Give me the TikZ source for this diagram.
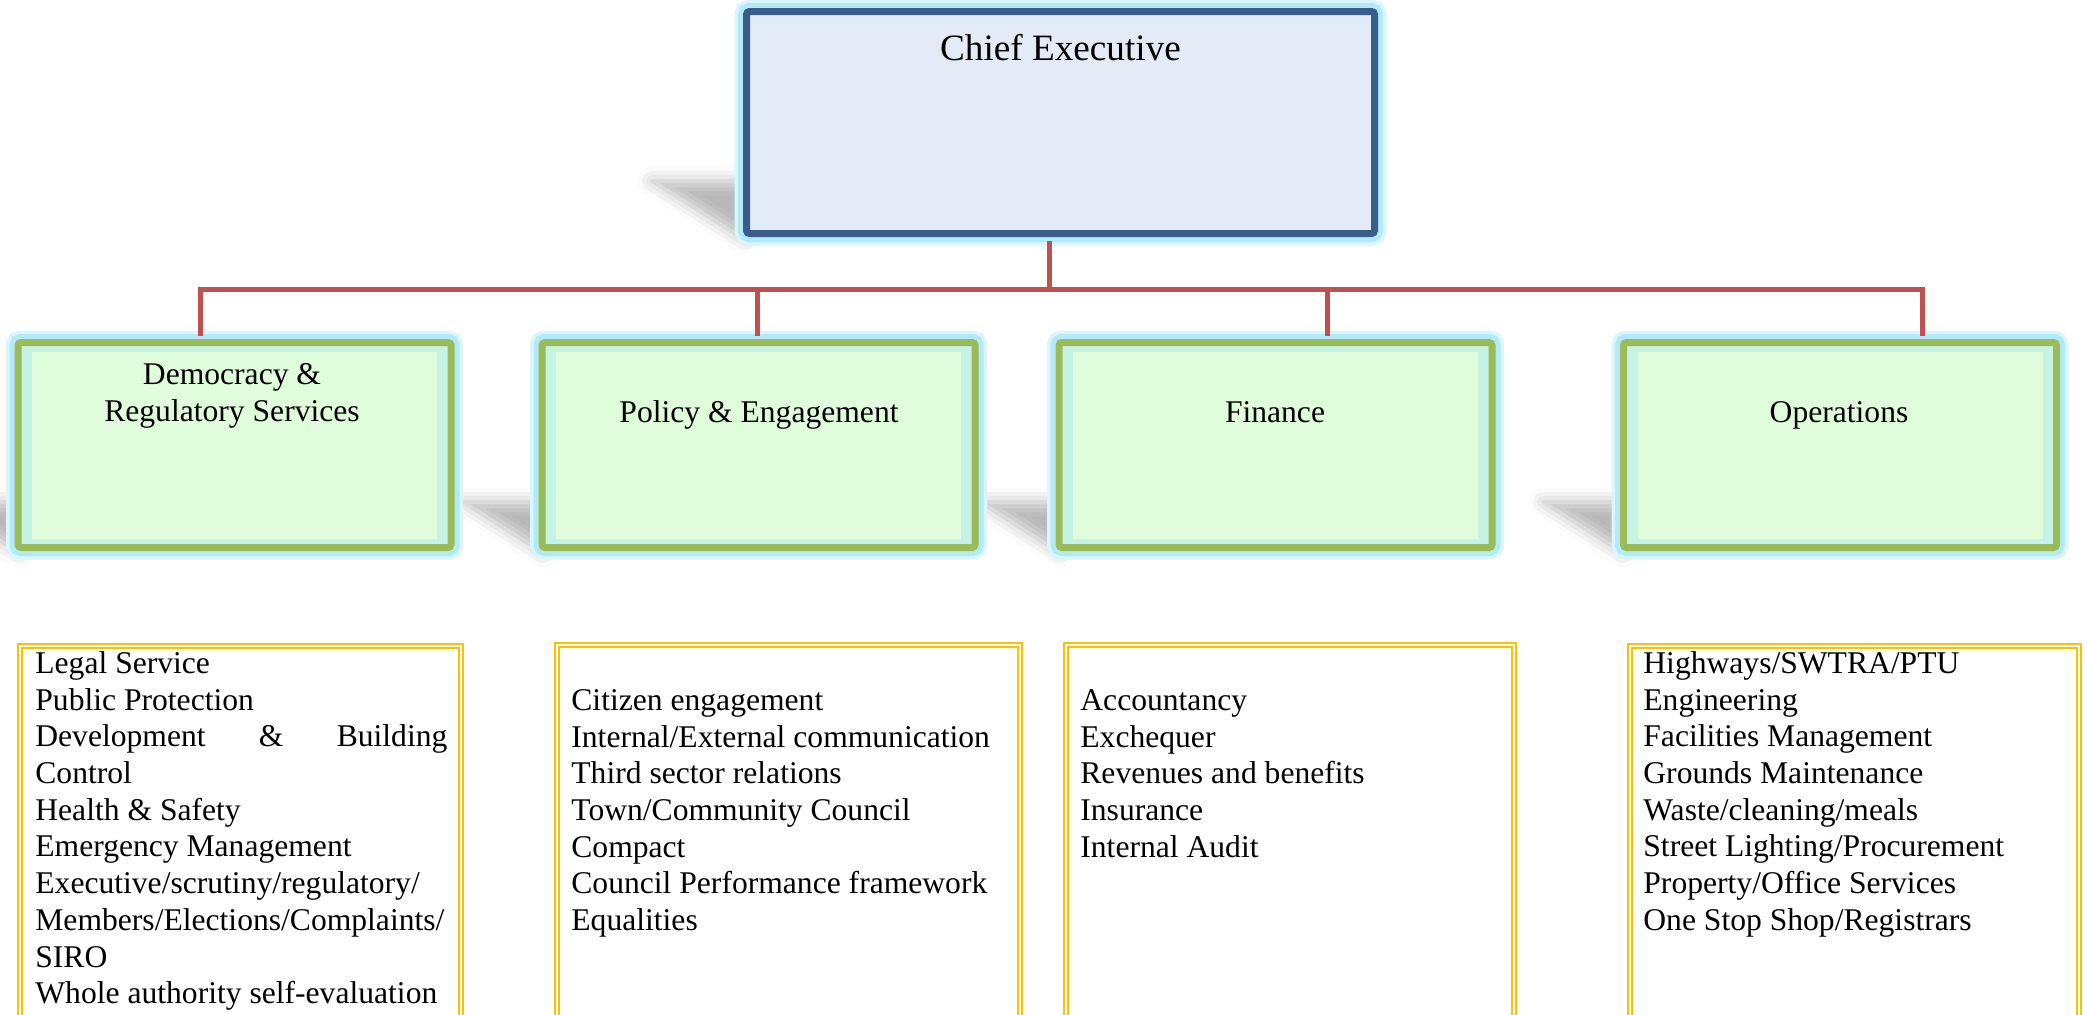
\documentclass[tikz,border=0pt]{standalone}
\usepackage{fontspec}
\setmainfont{Liberation Serif}
\usetikzlibrary{shadows.blur}
\definecolor{ceblue}{HTML}{385D8A}
\definecolor{cefill}{HTML}{E3EBF7}
\definecolor{glowcyan}{HTML}{A5E6F7}
\definecolor{unitgreen}{HTML}{9BBB59}
\definecolor{unitband}{HTML}{C5F3E6}
\definecolor{unitfill}{HTML}{E0FDDB}
\definecolor{linkred}{HTML}{C0504D}
\definecolor{listgold}{HTML}{FFC000}

\begin{document}
\begin{tikzpicture}[x=0.5pt,y=-0.5pt,
	glowbox/.style={preaction={draw=glowcyan!40,line width=12pt},preaction={draw=glowcyan!85,line width=8.5pt}},
	headbox/.style={glowbox,draw=ceblue,fill=cefill,line width=3.5pt,rounded corners=1.5pt,inner sep=0pt,minimum width=314pt,minimum height=111pt},
	unitbox/.style={glowbox,draw=unitgreen,fill=unitband,line width=3.5pt,rounded corners=1.5pt,inner sep=0pt,minimum width=216.5pt,minimum height=102.5pt},
	boxshade/.style={blur shadow={shadow xshift=0pt,shadow yshift=0pt,shadow blur radius=7pt,shadow opacity=28}},
	linkline/.style={draw=linkred,line width=2.5pt},
	listline/.style={draw=listgold,line width=1pt,double=white,double distance=1pt},
	titletext/.style={inner sep=0pt,font=\fontsize{18.6}{22}\selectfont},
	unittext/.style={inner sep=0pt,align=center,font=\fontsize{15.8}{18.35}\selectfont},
	listtext/.style={inner sep=0pt,anchor=north west,align=left,font=\fontsize{15.8}{18.35}\selectfont}]
	\useasboundingbox (0,0) rectangle (2087,1014);
	
	%shadows
	\path[boxshade] (652,181) -- (745,181) -- (745,240) -- cycle;
	\foreach \l in {15,539,1056,1619}
		\path[boxshade] (\l-76,502) -- (\l+4,502) -- (\l+4,553) -- cycle;
	
	%list frames
	\draw[listline] (20,1030) -- (20,646) -- (461,646) -- (461,1030);
	\draw[listline] (557,1030) -- (557,645) -- (1020,645) -- (1020,1030);
	\draw[listline] (1066,1030) -- (1066,645) -- (1514,645) -- (1514,1030);
	\draw[listline] (1630,1030) -- (1630,646) -- (2079,646) -- (2079,1030);
	
	%boxes
	\node[headbox] (ceo) at (1060.5,122.5) {};
	\node[unitbox] (dem) at (234.5,445) {};
	\node[unitbox] (pol) at (758.5,445) {};
	\node[unitbox] (fin) at (1275.5,445) {};
	\node[unitbox] (ops) at (1840,445) {};
	\foreach \u in {dem,pol,fin,ops}
		\fill[unitfill] ([shift={(8.75pt,6.25pt)}]\u.south west) rectangle ([shift={(-8.75pt,-6.25pt)}]\u.north east);
	
	%labels
	\node[titletext,anchor=base] (ceoname) at (1060.5,60) {Chief Executive};
	\node[unittext,anchor=north] (demname) at (232,363) {Democracy \&\\Regulatory Services};
	\node[unittext,anchor=base] (polname) at (759,422) {Policy \& Engagement};
	\node[unittext,anchor=base] (finname) at (1275,422) {Finance};
	\node[unittext,anchor=base] (opsname) at (1839,422) {Operations};
	
	%lists
	\node[listtext] (demlist) at (35,647.3) {\strut Legal Service\\Public Protection\\\makebox[206pt][s]{Development \& Building}\\Control\\Health \& Safety\\Emergency Management\\Executive/scrutiny/regulatory/\\Members/Elections/Complaints/\\SIRO\\Whole authority self-evaluation};
	\node[listtext] (pollist) at (571,684.3) {\strut Citizen engagement\\Internal/External communication\\Third sector relations\\Town/Community Council\\Compact\\Council Performance framework\\Equalities};
	\node[listtext] (finlist) at (1080,684.3) {\strut Accountancy\\Exchequer\\Revenues and benefits\\Insurance\\Internal Audit};
	\node[listtext] (opslist) at (1643,647.3) {\strut Highways/SWTRA/PTU\\Engineering\\Facilities Management\\Grounds Maintenance\\Waste/cleaning/meals\\Street Lighting/Procurement\\Property/Office Services\\One Stop Shop/Registrars};
	
	%connectors
	\coordinate (bus) at (1049,289);
	\draw[linkline,shorten <=1.75pt] (bus |- ceo.south) -- (bus);
	\draw[linkline,shorten >=1.75pt] (bus) -| ([xshift=-17.25pt]dem.north);
	\draw[linkline,shorten >=1.75pt] (bus) -| ([xshift=-0.75pt]pol.north);
	\draw[linkline,shorten >=1.75pt] (bus) -| ([xshift=25.75pt]fin.north);
	\draw[linkline,shorten >=1.75pt] (bus) -| ([xshift=41pt]ops.north);
\end{tikzpicture}
\end{document}
